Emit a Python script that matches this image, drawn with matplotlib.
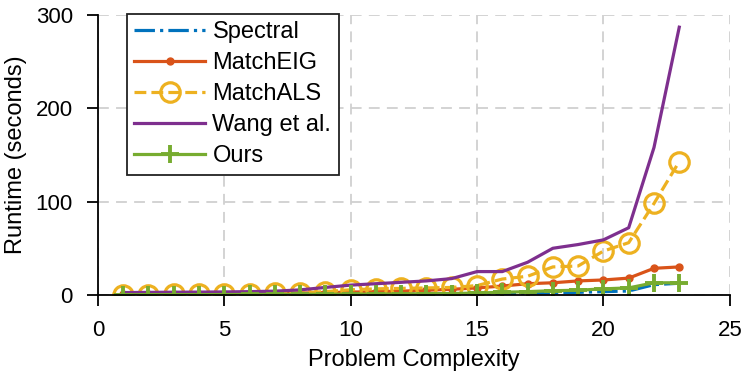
import matplotlib
matplotlib.use('Agg')
import matplotlib.pyplot as plt

# problem complexity levels
x = list(range(1, 24))

spectral = [0.1, 0.1, 0.1, 0.2, 0.2, 0.3, 0.3, 0.4, 0.5, 0.6, 0.7, 0.8, 0.9, 1.0,
            1.2, 1.5, 1.8, 2.2, 2.8, 3.5, 4.2, 11, 12.5]
match_eig = [0.5, 0.6, 0.7, 0.9, 1.0, 1.2, 1.5, 2.0, 2.5, 3.0, 3.5, 4.0, 5.0, 6.0,
             7.5, 9.5, 12, 13, 15, 16, 18, 28.5, 30]
match_als = [0.3, 0.4, 0.5, 0.7, 1.0, 1.2, 1.6, 2.2, 3.5, 5.5, 6.5, 7.0, 7.5, 8.0,
             10, 17, 20, 30, 31, 47, 56, 98, 143]
wang = [2.5, 2.7, 2.9, 3.0, 3.2, 3.5, 4.0, 5.4, 8.0, 10.5, 12, 13.5, 15, 17.5,
        25, 25, 35, 50, 54, 59, 72, 158, 287]
ours = [0.2, 0.2, 0.3, 0.3, 0.4, 0.5, 0.5, 0.6, 0.7, 0.8, 0.9, 1.0, 1.2, 1.5,
        2.0, 2.8, 3.5, 4.5, 5.0, 6.5, 7.5, 13, 13]

plt.rcParams['font.family'] = ['Liberation Sans', 'DejaVu Sans']
plt.rcParams['font.size'] = 16

fig = plt.figure(figsize=(7.47, 3.86), dpi=100)
ax = fig.add_axes([0.131, 0.236, 0.846, 0.725])

ax.plot(x, spectral, '-.', color='#0072BD', lw=2.3, label='Spectral')
ax.plot(x, match_eig, '-', color='#D95319', lw=2.3, marker='.', ms=10, label='MatchEIG')
ax.plot(x, match_als, '--', color='#EDB120', lw=2.3, marker='o', ms=14,
        mfc='none', mew=2.3, label='MatchALS')
ax.plot(x, wang, '-', color='#7E2F8E', lw=2.3, label='Wang et al.')
ax.plot(x, ours, '-', color='#77AC30', lw=2.3, marker='+', ms=13, mew=2.8, label='Ours')

ax.set_xlim(0, 25)
ax.set_ylim(0, 300)
ax.set_xticks([0, 5, 10, 15, 20, 25])
ax.set_yticks([0, 100, 200, 300])
ax.set_xlabel('Problem Complexity', fontsize=17, labelpad=6)
ax.set_ylabel('Runtime (seconds)', fontsize=17, labelpad=6)

ax.grid(True, ls=(0, (6, 4)), color='#d0d0d0', lw=1.3)
ax.set_axisbelow(True)
for s in ['top', 'right']:
    ax.spines[s].set_visible(False)
for s in ['left', 'bottom']:
    ax.spines[s].set_linewidth(1.3)
ax.tick_params(direction='out', length=8, width=1.3, pad=10, labelsize=16)

leg = ax.legend(loc='upper left', bbox_to_anchor=(0.046, 1.005), fancybox=False,
                edgecolor='#222222', framealpha=1, handlelength=3.0, fontsize=17,
                labelspacing=0.38, borderpad=0.32, handletextpad=0.3,
                borderaxespad=0)
leg.get_frame().set_linewidth(1.3)

fig.savefig('out.png', dpi=100)
